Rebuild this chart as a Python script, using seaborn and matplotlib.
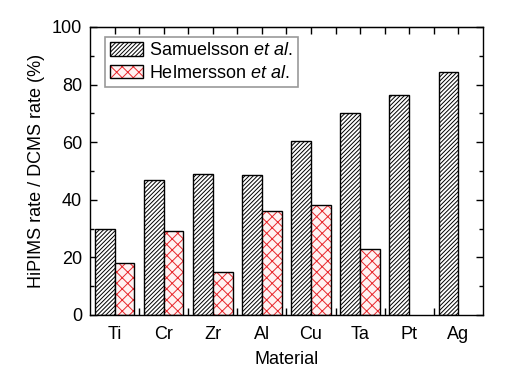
import matplotlib
matplotlib.use('Agg')
import matplotlib.pyplot as plt
from matplotlib.patches import Rectangle
from matplotlib.ticker import MultipleLocator, FixedLocator
import numpy as np
import pandas as pd
import seaborn as sns

materials = ['Ti', 'Cr', 'Zr', 'Al', 'Cu', 'Ta', 'Pt', 'Ag']
samuelsson = [30, 47, 49, 48.5, 60.5, 70, 76.5, 84.5]
helmersson = [18, 29, 15, 36, 38, 23, np.nan, np.nan]
series = ['Samuelsson', 'Helmersson']

df = pd.DataFrame({
    'Material': materials * 2,
    'rate': samuelsson + helmersson,
    'source': [series[0]] * len(materials) + [series[1]] * len(materials),
})

sns.set_style('ticks')
plt.rcParams['font.family'] = ['Liberation Sans', 'DejaVu Sans']
plt.rcParams['mathtext.fontset'] = 'custom'
plt.rcParams['mathtext.rm'] = 'Liberation Sans'
plt.rcParams['mathtext.it'] = 'Liberation Sans:italic'
plt.rcParams['hatch.linewidth'] = 0.7
for k in ['text.color', 'axes.labelcolor', 'xtick.color', 'ytick.color',
          'axes.edgecolor']:
    plt.rcParams[k] = 'black'

fs = 13
fig, ax = plt.subplots(figsize=(5.19, 3.79), dpi=100)
fig.subplots_adjust(left=0.174, right=0.930, top=0.929, bottom=0.169)

sns.barplot(data=df, x='Material', y='rate', hue='source', hue_order=series,
            order=materials, width=0.8, ax=ax, legend=False)

# black hatched bars
for bar in ax.containers[0]:
    bar.set_facecolor('white')
    bar.set_edgecolor('black')
    bar.set_hatch('////////')
    bar.set_linewidth(1.0)

# red crosshatched bars, with black outline drawn over them
for bar in ax.containers[1]:
    bar.set_facecolor('#fff2f2')
    bar.set_edgecolor('#e8262b')
    bar.set_hatch('xxx')
    bar.set_linewidth(0)
    if np.isfinite(bar.get_height()) and bar.get_height() > 0:
        ax.add_patch(Rectangle(bar.get_xy(), bar.get_width(), bar.get_height(),
                               fill=False, edgecolor='black', linewidth=1.0))

ax.set_xlim(-0.5, len(materials) - 0.5)
ax.set_ylim(0, 100)
ax.yaxis.set_major_locator(MultipleLocator(20))
ax.yaxis.set_minor_locator(MultipleLocator(10))
ax.xaxis.set_minor_locator(FixedLocator(np.arange(0.5, len(materials) - 1, 1)))

for s in ax.spines.values():
    s.set_visible(True)
    s.set_linewidth(1.0)
    s.set_color('black')

ax.tick_params(axis='y', which='both', direction='in', left=True, right=True,
               labelsize=fs, width=1.0, pad=6)
ax.tick_params(axis='y', which='major', length=5)
ax.tick_params(axis='y', which='minor', length=3)
ax.tick_params(axis='x', which='major', length=0, labelsize=fs, pad=8)
ax.tick_params(axis='x', which='minor', direction='in', length=5, width=1.0,
               top=True, bottom=True)

# top axis also carries ticks at the category centres
top = ax.secondary_xaxis('top')
top.set_xticks(range(len(materials)))
top.tick_params(axis='x', direction='in', length=5, width=1.0, labeltop=False)
top.set_xticklabels([])

ax.set_xlabel('Material', fontsize=fs, labelpad=6)
ax.set_ylabel('HiPIMS rate / DCMS rate (%)', fontsize=fs, labelpad=5)

red_patch = Rectangle((0, 0), 1, 1, facecolor='#fff2f2', edgecolor='#e8262b',
                      hatch='xxx', linewidth=0)
red_edge = Rectangle((0, 0), 1, 1, fill=False, edgecolor='black', linewidth=1.0)
leg = ax.legend(handles=[ax.containers[0][0], (red_patch, red_edge)],
                labels=[r'Samuelsson $\mathit{et\ al.}$',
                        r'Helmersson $\mathit{et\ al.}$'],
                loc='upper left', bbox_to_anchor=(0.037, 0.965), fontsize=fs,
                frameon=True, fancybox=False, handlelength=1.8, handleheight=0.75,
                handletextpad=0.35, borderpad=0.3, labelspacing=0.3,
                borderaxespad=0)
leg.get_frame().set_edgecolor('#808080')
leg.get_frame().set_linewidth(1.2)

fig.savefig('out.png', dpi=100)
